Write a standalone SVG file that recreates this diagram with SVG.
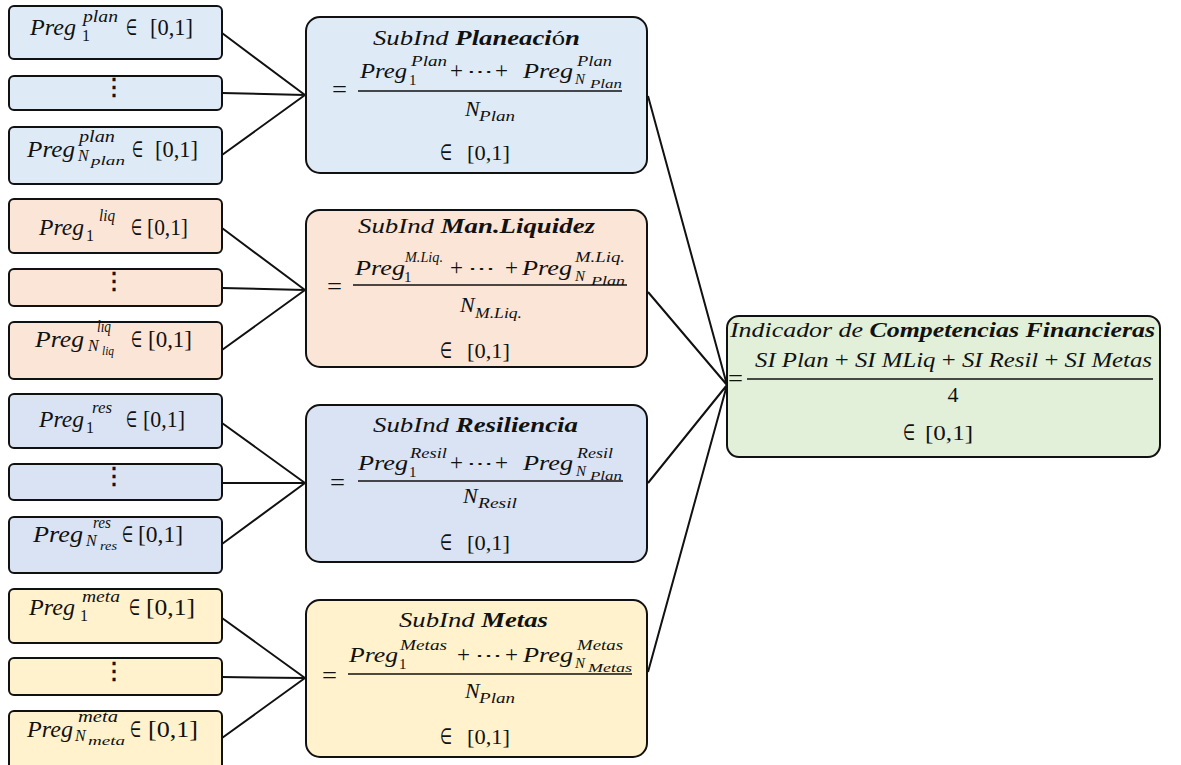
<svg xmlns="http://www.w3.org/2000/svg" width="1181" height="765" viewBox="0 0 1181 765">
<style>
.bx{stroke:#111;stroke-width:2}
.c1{fill:#DEEBF7}.c2{fill:#FBE5D6}.c3{fill:#DAE3F3}.c4{fill:#FFF2CC}.c5{fill:#E2F0D9}
.m{font-family:"Liberation Serif","DejaVu Serif",serif;font-style:italic;font-size:24px;fill:#111}
.md{font-size:22px}
.up{font-style:normal}
.bi{font-weight:bold}
.sp{font-size:16px}
.sm{font-size:15px}
.ss{font-size:12px}
.el{font-family:"DejaVu Sans",sans-serif;font-style:normal;font-size:22px;fill:#111}
.dt{font-family:"DejaVu Serif",serif;font-size:24px;fill:#111;stroke:#111;stroke-width:0.5px}
.ln{stroke:#111;stroke-width:2;fill:none}
.fr{stroke:#111;stroke-width:1.3}
</style>
<g id="connectors">
<path class="ln" d="M222,33L305,95M222,93L305,95M222,155L305,95"/>
<path class="ln" d="M222,228L305,290M222,288L305,290M222,350L305,290"/>
<path class="ln" d="M222,423L305,483M222,483L305,483M222,544L305,483"/>
<path class="ln" d="M222,618L305,678M222,677L305,678M222,738L305,678"/>
<path class="ln" d="M648,96L727,385M648,292L727,385M648,483L727,385M648,672L727,385"/>
</g>
<!-- group 1 left -->
<g id="plan-q1">
<rect class="bx c1" x="9" y="6" width="213" height="53" rx="5"/>
<text class="m" x="30" y="35" textLength="46" lengthAdjust="spacingAndGlyphs">Preg</text>
<text class="m sp" x="83" y="22" textLength="35" lengthAdjust="spacingAndGlyphs">plan</text>
<text class="m sp up" x="82" y="41">1</text>
<text class="el" x="126" y="35" textLength="11" lengthAdjust="spacingAndGlyphs">∈</text>
<text class="m up" x="150" y="35" textLength="43" lengthAdjust="spacingAndGlyphs">[0,1]</text>
</g>
<g id="plan-dots">
<rect class="bx c1" x="9" y="76" width="213" height="34" rx="5"/>
<text class="dt" x="114" y="95" text-anchor="middle">⋮</text>
</g>
<g id="plan-qn">
<rect class="bx c1" x="9" y="127" width="213" height="57" rx="5"/>
<text class="m" x="27" y="157" textLength="48" lengthAdjust="spacingAndGlyphs">Preg</text>
<text class="m sp" x="79" y="142" textLength="36" lengthAdjust="spacingAndGlyphs">plan</text>
<text class="m sp" x="78" y="161">N</text>
<text class="m ss" x="91" y="165" textLength="34" lengthAdjust="spacingAndGlyphs">plan</text>
<text class="el" x="132" y="157" textLength="11" lengthAdjust="spacingAndGlyphs">∈</text>
<text class="m up" x="155" y="157" textLength="43" lengthAdjust="spacingAndGlyphs">[0,1]</text>
</g>
<!-- group 2 left -->
<g id="liq-q1">
<rect class="bx c2" x="9" y="199" width="213" height="54" rx="5"/>
<text class="m" x="39" y="235" textLength="45" lengthAdjust="spacingAndGlyphs">Preg</text>
<text class="m sp" x="99" y="221" textLength="16" lengthAdjust="spacingAndGlyphs">liq</text>
<text class="m sp up" x="86" y="241">1</text>
<text class="el" x="131" y="235" textLength="11" lengthAdjust="spacingAndGlyphs">∈</text>
<text class="m up" x="147" y="235" textLength="41" lengthAdjust="spacingAndGlyphs">[0,1]</text>
</g>
<g id="liq-dots">
<rect class="bx c2" x="9" y="269" width="213" height="37" rx="5"/>
<text class="dt" x="114" y="289" text-anchor="middle">⋮</text>
</g>
<g id="liq-qn">
<rect class="bx c2" x="9" y="322" width="213" height="57" rx="5"/>
<text class="m" x="35" y="347" textLength="49" lengthAdjust="spacingAndGlyphs">Preg</text>
<text class="m sp" x="97" y="332" textLength="14" lengthAdjust="spacingAndGlyphs">liq</text>
<text class="m sp" x="88" y="351">N</text>
<text class="m ss" x="102" y="355" textLength="12" lengthAdjust="spacingAndGlyphs">liq</text>
<text class="el" x="131" y="347" textLength="11" lengthAdjust="spacingAndGlyphs">∈</text>
<text class="m up" x="148" y="347" textLength="44" lengthAdjust="spacingAndGlyphs">[0,1]</text>
</g>
<!-- group 3 left -->
<g id="res-q1">
<rect class="bx c3" x="9" y="394" width="213" height="54" rx="5"/>
<text class="m" x="39" y="427" textLength="45" lengthAdjust="spacingAndGlyphs">Preg</text>
<text class="m sp" x="92" y="413" textLength="20" lengthAdjust="spacingAndGlyphs">res</text>
<text class="m sp up" x="86" y="433">1</text>
<text class="el" x="126" y="427" textLength="11" lengthAdjust="spacingAndGlyphs">∈</text>
<text class="m up" x="143" y="427" textLength="42" lengthAdjust="spacingAndGlyphs">[0,1]</text>
</g>
<g id="res-dots">
<rect class="bx c3" x="9" y="464" width="213" height="36" rx="5"/>
<text class="dt" x="114" y="484" text-anchor="middle">⋮</text>
</g>
<g id="res-qn">
<rect class="bx c3" x="9" y="517" width="213" height="56" rx="5"/>
<text class="m" x="33" y="542" textLength="50" lengthAdjust="spacingAndGlyphs">Preg</text>
<text class="m sp" x="93" y="528" textLength="18" lengthAdjust="spacingAndGlyphs">res</text>
<text class="m sp" x="86" y="546">N</text>
<text class="m ss" x="100" y="550" textLength="17" lengthAdjust="spacingAndGlyphs">res</text>
<text class="el" x="122" y="542" textLength="11" lengthAdjust="spacingAndGlyphs">∈</text>
<text class="m up" x="138" y="542" textLength="45" lengthAdjust="spacingAndGlyphs">[0,1]</text>
</g>
<!-- group 4 left -->
<g id="meta-q1">
<rect class="bx c4" x="9" y="589" width="213" height="54" rx="5"/>
<text class="m" x="29" y="615" textLength="46" lengthAdjust="spacingAndGlyphs">Preg</text>
<text class="m sp" x="82" y="602" textLength="38" lengthAdjust="spacingAndGlyphs">meta</text>
<text class="m sp up" x="80" y="621">1</text>
<text class="el" x="129" y="615" textLength="11" lengthAdjust="spacingAndGlyphs">∈</text>
<text class="m up" x="146" y="615" textLength="49" lengthAdjust="spacingAndGlyphs">[0,1]</text>
</g>
<g id="meta-dots">
<rect class="bx c4" x="9" y="658" width="213" height="37" rx="5"/>
<text class="dt" x="114" y="679" text-anchor="middle">⋮</text>
</g>
<g id="meta-qn">
<rect class="bx c4" x="9" y="711" width="213" height="62" rx="5"/>
<text class="m" x="27" y="737" textLength="46" lengthAdjust="spacingAndGlyphs">Preg</text>
<text class="m sp" x="78" y="722" textLength="40" lengthAdjust="spacingAndGlyphs">meta</text>
<text class="m sp" x="75" y="741">N</text>
<text class="m ss" x="88" y="745" textLength="37" lengthAdjust="spacingAndGlyphs">meta</text>
<text class="el" x="130" y="737" textLength="11" lengthAdjust="spacingAndGlyphs">∈</text>
<text class="m up" x="148" y="737" textLength="50" lengthAdjust="spacingAndGlyphs">[0,1]</text>
</g>
<!-- middle boxes -->
<g id="sub-planeacion">
<rect class="bx c1" x="306" y="17" width="341" height="156" rx="14"/>
<text class="m md" x="373" y="45" textLength="207" lengthAdjust="spacingAndGlyphs">SubInd <tspan class="bi">Planeaci</tspan><tspan class="up">ó</tspan><tspan class="bi">n</tspan></text>
<text class="m up" x="332" y="97" textLength="15" lengthAdjust="spacingAndGlyphs">=</text>
<text class="m md" x="360" y="78" textLength="47" lengthAdjust="spacingAndGlyphs">Preg</text>
<text class="m sm" x="411" y="66" textLength="36" lengthAdjust="spacingAndGlyphs">Plan</text>
<text class="m sm up" x="409" y="85">1</text>
<text class="m up" x="450" y="78" textLength="13" lengthAdjust="spacingAndGlyphs">+</text>
<text class="dt" x="467" y="78" textLength="26" lengthAdjust="spacingAndGlyphs" style="font-size:20px;stroke-width:0.2px">⋯</text>
<text class="m up" x="495" y="78" textLength="13" lengthAdjust="spacingAndGlyphs">+</text>
<text class="m md" x="523" y="78" textLength="50" lengthAdjust="spacingAndGlyphs">Preg</text>
<text class="m sm" x="577" y="66" textLength="35" lengthAdjust="spacingAndGlyphs">Plan</text>
<text class="m sm" x="575" y="84">N</text>
<text class="m ss" x="590" y="88" textLength="32" lengthAdjust="spacingAndGlyphs">Plan</text>
<line class="fr" x1="358" y1="91" x2="622" y2="91"/>
<text class="m md" x="465" y="116">N</text>
<text class="m sm" x="479" y="121" textLength="36" lengthAdjust="spacingAndGlyphs">Plan</text>
<text class="el" x="440" y="160" textLength="12" lengthAdjust="spacingAndGlyphs">∈</text>
<text class="m md up" x="467" y="160" textLength="43" lengthAdjust="spacingAndGlyphs">[0,1]</text>
</g>
<g id="sub-liquidez">
<rect class="bx c2" x="306" y="210" width="341" height="157" rx="14"/>
<text class="m md" x="358" y="233" textLength="237" lengthAdjust="spacingAndGlyphs">SubInd <tspan class="bi">Man.Liquidez</tspan></text>
<text class="m up" x="327" y="294" textLength="15" lengthAdjust="spacingAndGlyphs">=</text>
<text class="m md" x="355" y="275" textLength="50" lengthAdjust="spacingAndGlyphs">Preg</text>
<text class="m sm" x="405" y="262" textLength="38" lengthAdjust="spacingAndGlyphs">M.Liq.</text>
<text class="m sm up" x="404" y="282">1</text>
<text class="m up" x="450" y="275" textLength="13" lengthAdjust="spacingAndGlyphs">+</text>
<text class="dt" x="468" y="275" textLength="27" lengthAdjust="spacingAndGlyphs" style="font-size:20px;stroke-width:0.2px">⋯</text>
<text class="m up" x="505" y="275" textLength="13" lengthAdjust="spacingAndGlyphs">+</text>
<text class="m md" x="522" y="275" textLength="50" lengthAdjust="spacingAndGlyphs">Preg</text>
<text class="m sm" x="575" y="262" textLength="50" lengthAdjust="spacingAndGlyphs">M.Liq.</text>
<text class="m sm" x="575" y="281">N</text>
<text class="m ss" x="591" y="285" textLength="34" lengthAdjust="spacingAndGlyphs">Plan</text>
<line class="fr" x1="353" y1="285" x2="627" y2="285"/>
<text class="m md" x="460" y="312">N</text>
<text class="m sm" x="475" y="318" textLength="47" lengthAdjust="spacingAndGlyphs">M.Liq.</text>
<text class="el" x="440" y="358" textLength="12" lengthAdjust="spacingAndGlyphs">∈</text>
<text class="m md up" x="467" y="358" textLength="43" lengthAdjust="spacingAndGlyphs">[0,1]</text>
</g>
<g id="sub-resiliencia">
<rect class="bx c3" x="306" y="405" width="341" height="157" rx="14"/>
<text class="m md" x="373" y="432" textLength="205" lengthAdjust="spacingAndGlyphs">SubInd <tspan class="bi">Resiliencia</tspan></text>
<text class="m up" x="330" y="490" textLength="15" lengthAdjust="spacingAndGlyphs">=</text>
<text class="m md" x="358" y="470" textLength="50" lengthAdjust="spacingAndGlyphs">Preg</text>
<text class="m sm" x="410" y="458" textLength="37" lengthAdjust="spacingAndGlyphs">Resil</text>
<text class="m sm up" x="409" y="477">1</text>
<text class="m up" x="450" y="470" textLength="13" lengthAdjust="spacingAndGlyphs">+</text>
<text class="dt" x="467" y="470" textLength="26" lengthAdjust="spacingAndGlyphs" style="font-size:20px;stroke-width:0.2px">⋯</text>
<text class="m up" x="495" y="470" textLength="13" lengthAdjust="spacingAndGlyphs">+</text>
<text class="m md" x="523" y="470" textLength="50" lengthAdjust="spacingAndGlyphs">Preg</text>
<text class="m sm" x="577" y="458" textLength="36" lengthAdjust="spacingAndGlyphs">Resil</text>
<text class="m sm" x="576" y="476">N</text>
<text class="m ss" x="590" y="480" textLength="32" lengthAdjust="spacingAndGlyphs">Plan</text>
<line class="fr" x1="358" y1="481" x2="623" y2="481"/>
<text class="m md" x="463" y="503">N</text>
<text class="m sm" x="478" y="508" textLength="39" lengthAdjust="spacingAndGlyphs">Resil</text>
<text class="el" x="440" y="550" textLength="12" lengthAdjust="spacingAndGlyphs">∈</text>
<text class="m md up" x="467" y="550" textLength="43" lengthAdjust="spacingAndGlyphs">[0,1]</text>
</g>
<g id="sub-metas">
<rect class="bx c4" x="306" y="600" width="341" height="157" rx="14"/>
<text class="m md" x="399" y="627" textLength="149" lengthAdjust="spacingAndGlyphs">SubInd <tspan class="bi">Metas</tspan></text>
<text class="m up" x="322" y="683" textLength="15" lengthAdjust="spacingAndGlyphs">=</text>
<text class="m md" x="349" y="662" textLength="49" lengthAdjust="spacingAndGlyphs">Preg</text>
<text class="m sm" x="400" y="650" textLength="47" lengthAdjust="spacingAndGlyphs">Metas</text>
<text class="m sm up" x="399" y="669">1</text>
<text class="m up" x="457" y="662" textLength="13" lengthAdjust="spacingAndGlyphs">+</text>
<text class="dt" x="475" y="662" textLength="27" lengthAdjust="spacingAndGlyphs" style="font-size:20px;stroke-width:0.2px">⋯</text>
<text class="m up" x="505" y="662" textLength="13" lengthAdjust="spacingAndGlyphs">+</text>
<text class="m md" x="523" y="662" textLength="50" lengthAdjust="spacingAndGlyphs">Preg</text>
<text class="m sm" x="577" y="650" textLength="46" lengthAdjust="spacingAndGlyphs">Metas</text>
<text class="m sm" x="575" y="668">N</text>
<text class="m ss" x="588" y="672" textLength="44" lengthAdjust="spacingAndGlyphs">Metas</text>
<line class="fr" x1="348" y1="674" x2="632" y2="674"/>
<text class="m md" x="465" y="698">N</text>
<text class="m sm" x="479" y="703" textLength="36" lengthAdjust="spacingAndGlyphs">Plan</text>
<text class="el" x="440" y="744" textLength="12" lengthAdjust="spacingAndGlyphs">∈</text>
<text class="m md up" x="467" y="744" textLength="43" lengthAdjust="spacingAndGlyphs">[0,1]</text>
</g>
<!-- final -->
<g id="indicador">
<rect class="bx c5" x="727" y="316" width="433" height="141" rx="12"/>
<text class="m md" x="730" y="337" textLength="425" lengthAdjust="spacingAndGlyphs">Indicador de <tspan class="bi">Competencias Financieras</tspan></text>
<text class="m up" x="728" y="386" textLength="15" lengthAdjust="spacingAndGlyphs">=</text>
<text class="m md" x="755" y="367" textLength="397" lengthAdjust="spacingAndGlyphs">SI Plan <tspan class="up">+</tspan> SI MLiq  <tspan class="up">+</tspan> SI Resil <tspan class="up">+</tspan> SI Metas</text>
<line class="fr" x1="747" y1="379" x2="1153" y2="379"/>
<text class="m md up" x="953" y="402" text-anchor="middle">4</text>
<text class="el" x="903" y="440" textLength="12" lengthAdjust="spacingAndGlyphs">∈</text>
<text class="m md up" x="925" y="440" textLength="48" lengthAdjust="spacingAndGlyphs">[0,1]</text>
</g>
</svg>
